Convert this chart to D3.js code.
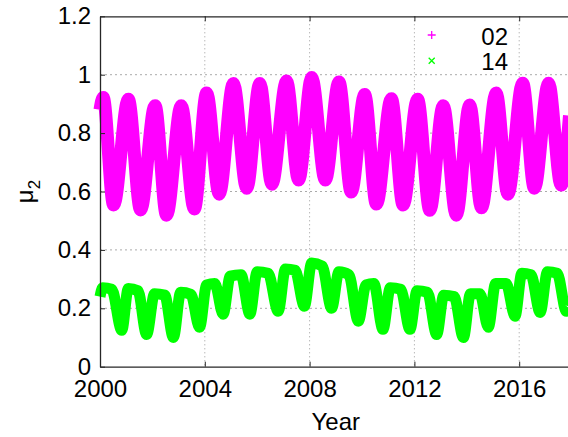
<!DOCTYPE html>
<html>
<head>
<meta charset="utf-8">
<script src="https://cdn.jsdelivr.net/npm/d3@7"></script>
<style>
body{margin:0;background:#fff}
text{font-family:"Liberation Sans",Arial,sans-serif}
</style>
</head>
<body>
<div id="chart"></div>
<script>
// series 02 : peaks and troughs
var m02Year = [2000.0, 2000.12, 2000.52, 2001.08, 2001.55, 2002.1, 2002.54, 2003.1, 2003.6, 2004.07, 2004.55, 2005.09, 2005.6, 2006.1, 2006.56, 2007.12, 2007.58, 2008.08, 2008.6, 2009.12, 2009.59, 2010.1, 2010.55, 2011.12, 2011.57, 2012.12, 2012.59, 2013.1, 2013.6, 2014.11, 2014.56, 2015.12, 2015.57, 2016.13, 2016.58, 2017.12, 2017.6, 2017.92]
var m02Val = [0.88, 0.922, 0.554, 0.916, 0.537, 0.894, 0.519, 0.894, 0.54, 0.937, 0.591, 0.97, 0.611, 0.97, 0.625, 0.978, 0.639, 0.99, 0.639, 0.975, 0.598, 0.932, 0.557, 0.918, 0.554, 0.916, 0.536, 0.894, 0.519, 0.896, 0.544, 0.937, 0.591, 0.971, 0.611, 0.971, 0.622, 0.86]

// series 14 : plateau start, plateau end, trough for each year
var s14Year = [2000.0, 2000.1, 2000.45, 2000.83, 2001.08, 2001.45, 2001.78, 2002.08, 2002.47, 2002.8, 2003.08, 2003.47, 2003.8, 2004.07, 2004.38, 2004.7, 2004.97, 2005.38, 2005.72, 2006.0, 2006.42, 2006.8, 2007.08, 2007.45, 2007.8, 2008.08, 2008.48, 2008.84, 2009.12, 2009.5, 2009.86, 2010.15, 2010.45, 2010.8, 2011.08, 2011.48, 2011.83, 2012.1, 2012.5, 2012.85, 2013.12, 2013.52, 2013.87, 2014.14, 2014.5, 2014.82, 2015.1, 2015.5, 2015.84, 2016.1, 2016.45, 2016.8, 2017.08, 2017.45, 2017.8, 2017.92]
var s14Val = [0.24, 0.27, 0.265, 0.125, 0.268, 0.26, 0.11, 0.25, 0.245, 0.10, 0.255, 0.248, 0.135, 0.28, 0.285, 0.18, 0.31, 0.315, 0.18, 0.325, 0.32, 0.19, 0.335, 0.33, 0.207, 0.355, 0.345, 0.20, 0.325, 0.315, 0.156, 0.28, 0.285, 0.128, 0.27, 0.265, 0.128, 0.26, 0.255, 0.11, 0.245, 0.24, 0.10, 0.25, 0.25, 0.135, 0.285, 0.285, 0.173, 0.32, 0.315, 0.186, 0.325, 0.32, 0.19, 0.2]

var xTicks = [2000, 2004, 2008, 2012, 2016]
var yTicks = [0, 0.2, 0.4, 0.6, 0.8, 1, 1.2]
var seriesNames = ['02', '14']
var seriesColors = ['#ff00ff', '#00ff00']

var svg = d3.select('#chart').append('svg')
.attr('width',568)
.attr('height',437)

var plotL = 100, plotT = 16.3, plotB = 366.7
var plotR = plotL + 18*26.2

var x = d3.scaleLinear().domain([2000,2018]).range([plotL,plotR])
var y = d3.scaleLinear().domain([0,1.2]).range([plotB,plotT])

// grid
var grid = svg.append('g')
grid.selectAll('.hg').data(yTicks.slice(1,-1)).enter().append('line')
.attr('x1',plotL).attr('x2',plotR)
.attr('y1',function(d){return y(d)}).attr('y2',function(d){return y(d)})
.attr('stroke','#aaa').attr('stroke-dasharray','2,3')
grid.selectAll('.vg').data(xTicks.slice(1)).enter().append('line')
.attr('y1',plotT).attr('y2',plotB)
.attr('x1',function(d){return x(d)}).attr('x2',function(d){return x(d)})
.attr('stroke','#999').attr('stroke-dasharray','1,3')

// data
var line = d3.line().curve(d3.curveMonotoneX)
.x(function(d){return x(d[0])})
.y(function(d){return y(d[1])})

svg.append('path')
.datum(m02Year.map(function(d,i){return [d,m02Val[i]]}))
.attr('d',line)
.attr('fill','none')
.attr('stroke',seriesColors[0])
.attr('stroke-width',13)

svg.append('path')
.datum(s14Year.map(function(d,i){return [d,s14Val[i]]}))
.attr('d',line)
.attr('fill','none')
.attr('stroke',seriesColors[1])
.attr('stroke-width',11)

// axes
var xaxis = svg.append('g').attr('transform','translate(0,'+plotB+')')
.call(d3.axisBottom(x).tickValues(xTicks).tickFormat(d3.format('d')).tickSizeInner(-5).tickSizeOuter(0).tickPadding(13))
var xaxisTop = svg.append('g').attr('transform','translate(0,'+plotT+')')
.call(d3.axisTop(x).tickValues(xTicks).tickFormat('').tickSizeInner(-5).tickSizeOuter(0))
var yaxis = svg.append('g').attr('transform','translate('+plotL+',0)')
.call(d3.axisLeft(y).tickValues(yTicks).tickFormat(d3.format('')).tickSizeInner(-5).tickSizeOuter(0).tickPadding(9))

svg.selectAll('.domain').attr('stroke','#262626').attr('stroke-width',1.3)
svg.selectAll('.tick line').attr('stroke','#262626')
svg.selectAll('.tick text').style('font-size','24px').attr('fill','#000')
.style('font-family','"Liberation Sans",Arial,sans-serif')

svg.append('text')
.attr('x',(plotL+plotR)/2)
.attr('y',430)
.attr('text-anchor','middle')
.style('font-size','24px')
.text('Year')

var ylab = svg.append('text')
.attr('transform','translate(33,'+((plotT+plotB)/2)+') rotate(-90)')
.attr('text-anchor','middle')
.style('font-size','24px')
ylab.append('tspan').text('\u03bc')
ylab.append('tspan').attr('dy',7).style('font-size','17px').text('2')

// legend
var leg = svg.append('g')
leg.append('path').attr('d','M-4,0H4M0,-4V4')
.attr('transform','translate(431.7,35)')
.attr('stroke',seriesColors[0]).attr('stroke-width',1.3)
leg.append('path').attr('d','M-3,-3L3,3M-3,3L3,-3')
.attr('transform','translate(431.7,60.7)')
.attr('stroke',seriesColors[1]).attr('stroke-width',1.3)
leg.selectAll('.lt').data(seriesNames).enter().append('text')
.attr('x',508)
.attr('y',function(d,i){return 45+i*25})
.attr('text-anchor','end')
.style('font-size','24px')
.text(function(d){return d})
</script>
</body>
</html>
